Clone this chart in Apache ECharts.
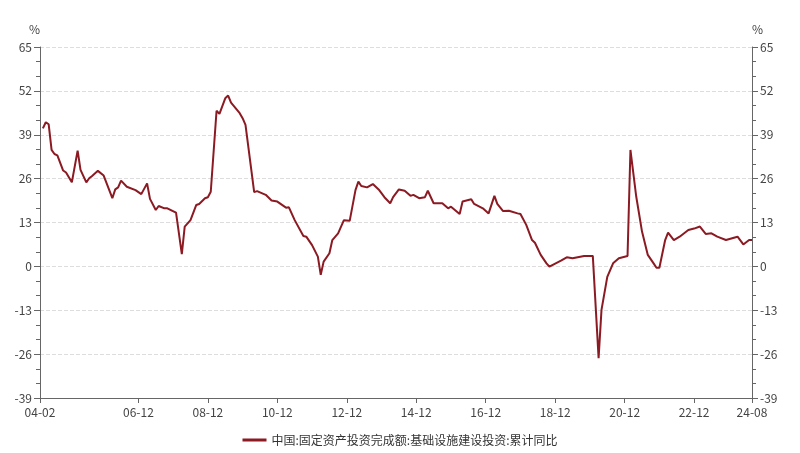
<!DOCTYPE html>
<html>
<head>
<meta charset="utf-8">
<script src="https://cdn.jsdelivr.net/npm/echarts@6/dist/echarts.min.js"></script>
<style>html,body{margin:0;padding:0;background:#fff}#c{width:800px;height:453px}</style>
</head>
<body>
<div id="c"></div>
<script>
// month index: 1 = 2004-02 ... 247 = 2024-08
var months = [2,3,4,5,6,7,9,10,12,14,15,17,18,19,21,23,26,27,28,29,31,34,36,38,39,41,42,44,45,48,50,51,53,55,56,58,59,60,62,63,65,66,67,68,70,71,72,75,76,79,81,83,86,87,89,92,93,95,97,98,99,101,102,104,106,108,110,111,112,114,116,118,120,122,123,125,127,129,130,132,134,135,137,140,142,143,146,147,150,151,154,156,158,159,161,163,166,167,169,171,172,174,176,177,178,181,183,185,189,192,194,195,197,199,201,204,205,207,209,211,213,214,215,217,218,220,222,225,227,229,231,233,235,238,242,244,246,247];
var values = [40.9,42.7,42.1,34.5,33.3,32.9,28.4,27.8,24.9,34.3,28.6,24.9,26.1,26.8,28.3,26.9,20.2,22.8,23.4,25.4,23.6,22.6,21.4,24.6,20.0,16.7,17.9,17.2,17.2,15.9,3.6,11.8,13.7,18.2,18.5,20.2,20.5,22.1,46.1,45.2,49.8,50.6,48.5,47.5,45.4,43.9,41.9,22.0,22.3,21.2,19.5,19.2,17.4,17.5,13.7,9.0,8.8,6.3,2.9,-2.5,1.4,3.9,7.8,9.8,13.7,13.5,22.6,25.1,23.8,23.4,24.4,22.8,20.5,18.7,20.5,22.8,22.4,20.9,21.2,20.2,20.5,22.4,18.7,18.7,17.2,17.7,15.5,19.2,19.9,18.5,17.2,15.7,20.9,18.5,16.4,16.5,15.7,15.5,12.3,7.8,7.0,3.4,0.9,-0.1,0.4,1.7,2.7,2.4,3.1,3.1,-27.2,-12.9,-3.1,0.9,2.4,3.1,34.5,20.7,10.3,3.4,0.9,-0.4,-0.4,7.8,10.0,7.8,8.8,10.8,11.2,11.8,9.6,9.8,8.8,7.8,8.8,6.5,7.8,7.8];
var tickMonths = [1,35,59,83,107,131,155,179,203,227,247];
var seriesName = '中国:固定资产投资完成额:基础设施建设投资:累计同比';

function monthLabel(i) {
	var t = 2004 * 12 + i; // 2004-01 + i
	var y = Math.floor(t / 12), m = t % 12 + 1;
	return String(y).slice(2) + '-' + (m < 10 ? '0' + m : m);
}
var pts = months.map(function(m, k){ return [m, values[k]]; });

var yax = function(pos){
	return {
		type: 'value', position: pos, min: -39, max: 65, interval: 13,
		name: '%', nameGap: 12, nameTextStyle: {color: '#444', fontSize: 12, align: pos == 'left' ? 'right' : 'left'},
		axisLine: {show: true, lineStyle: {color: '#666'}},
		axisTick: {show: true, length: 6, lineStyle: {color: '#666'}},
		minorTick: {show: true, splitNumber: 3, length: 4, lineStyle: {color: '#666'}},
		axisLabel: {color: '#444', fontSize: 12},
		splitLine: {show: pos == 'left', lineStyle: {color: '#ddd', type: 'dashed'}}
	};
};
var chart = echarts.init(document.getElementById('c'));
chart.setOption({
	animation: false,
	textStyle: {fontFamily: 'Noto Sans CJK SC, sans-serif'},
	grid: {left: 40, right: 48, top: 47, bottom: 55},
	legend: {
		bottom: 2, left: 'center', icon: 'rect', itemWidth: 24, itemHeight: 3,
		textStyle: {color: '#333', fontSize: 12}, data: [seriesName]
	},
	xAxis: {
		type: 'value', min: 1, max: 247,
		axisLine: {show: true, onZero: false, lineStyle: {color: '#666'}},
		axisTick: {show: true, customValues: tickMonths, length: 5, lineStyle: {color: '#666'}},
		axisLabel: {customValues: tickMonths, color: '#444', fontSize: 12, formatter: function(v){ return monthLabel(v); }},
		splitLine: {show: false}
	},
	yAxis: [yax('left'), yax('right')],
	series: [{
		name: seriesName, type: 'line', data: pts, showSymbol: false,
		lineStyle: {color: '#8b1a22', width: 2}, itemStyle: {color: '#8b1a22'}
	}]
});
</script>
</body>
</html>
